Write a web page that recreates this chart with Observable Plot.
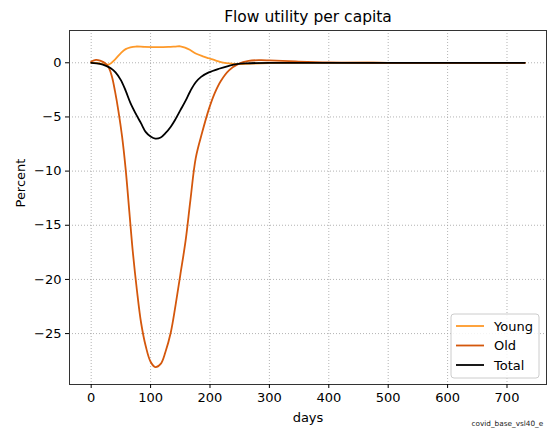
<!DOCTYPE html>
<html>
<head>
<meta charset="utf-8">
<script src="https://cdn.jsdelivr.net/npm/d3@7"></script>
<script src="https://cdn.jsdelivr.net/npm/@observablehq/plot@0.6"></script>
<style>
  html, body { margin: 0; padding: 0; background: #fff; }
</style>
</head>
<body>
<div id="chart"></div>
<script>
const titleText = "Flow utility per capita";
const xLabel = "days";
const yLabel = "Percent";
const captionText = "covid_base_vsl40_e";
const xTicks = [0, 100, 200, 300, 400, 500, 600, 700];
const yTicks = [0, -5, -10, -15, -20, -25];
const seriesNames = ["Young", "Old", "Total"];
const seriesColors = ["#fe9929", "#d4570c", "#000000"];

const youngDays = [0, 10, 20, 30, 40, 50, 58, 66, 75, 90, 114, 130, 142, 150, 158, 166, 176, 188, 198, 210, 220, 232, 248, 270, 300, 350, 400, 500, 600, 730];
const youngVals = [0, -0.02, -0.12, -0.15, 0.3, 0.9, 1.26, 1.42, 1.5, 1.47, 1.45, 1.47, 1.5, 1.52, 1.4, 1.2, 0.86, 0.6, 0.42, 0.2, 0.03, -0.06, -0.12, -0.08, -0.04, -0.01, 0, 0, 0, 0];

const oldDays = [0, 8, 15, 25, 30, 35, 40, 46, 52, 58, 64, 70, 77, 84, 92, 100, 108, 117, 125, 134, 142, 150, 159, 167, 176, 187, 198, 208, 218, 232, 248, 265, 285, 300, 344, 400, 500, 730];
const oldVals = [0.12, 0.27, 0.2, -0.1, -0.5, -1.3, -2.6, -4.5, -6.8, -9.8, -13.6, -17.4, -21.0, -24.0, -26.2, -27.6, -28.1, -27.8, -26.7, -24.9, -22.4, -19.6, -16.4, -12.7, -8.8, -6.4, -4.3, -2.8, -1.7, -0.7, -0.1, 0.18, 0.24, 0.22, 0.12, 0.03, 0, 0];

const totalDays = [0, 15, 25, 33, 41, 50, 58, 66, 75, 84, 92, 100, 108, 117, 125, 134, 142, 150, 159, 167, 176, 185, 198, 215, 232, 245, 260, 300, 400, 730];
const totalVals = [0, -0.1, -0.28, -0.5, -0.89, -1.6, -2.57, -3.7, -4.7, -5.6, -6.4, -6.8, -7.0, -6.9, -6.5, -5.9, -5.2, -4.4, -3.5, -2.6, -1.8, -1.3, -0.89, -0.55, -0.28, -0.12, -0.05, 0, 0, 0];

const toRows = (days, vals, name) => days.map((d, i) => ({day: d, value: vals[i], series: name}));
const young = toRows(youngDays, youngVals, "Young");
const old = toRows(oldDays, oldVals, "Old");
const total = toRows(totalDays, totalVals, "Total");

const font = "DejaVu Sans, Liberation Sans, sans-serif";
const gridStyle = {stroke: "#a0a0a0", strokeOpacity: 1, strokeDasharray: "1,2", strokeWidth: 0.8};

const chart = Plot.plot({
  width: 548,
  height: 430,
  marginLeft: 69,
  marginRight: 2,
  marginTop: 30,
  marginBottom: 46,
  style: {fontFamily: font, fontSize: "13px", background: "#fff", color: "#000", overflow: "visible"},
  x: {domain: [-36.5, 766.5], label: null},
  y: {domain: [-29.7, 2.98], label: null},
  marks: [
    Plot.gridX(xTicks, gridStyle),
    Plot.gridY(yTicks, gridStyle),
    Plot.line(young, {x: "day", y: "value", stroke: seriesColors[0], strokeWidth: 1.8, curve: "catmull-rom"}),
    Plot.line(old, {x: "day", y: "value", stroke: seriesColors[1], strokeWidth: 1.8, curve: "catmull-rom"}),
    Plot.line(total, {x: "day", y: "value", stroke: seriesColors[2], strokeWidth: 1.8, curve: "catmull-rom"}),
    Plot.frame({stroke: "#333", strokeWidth: 1}),
    Plot.axisX(xTicks, {tickSize: 4, tickPadding: 4, label: null, fontSize: 13}),
    Plot.axisY(yTicks, {tickSize: 4, tickPadding: 4, label: null, fontSize: 13}),
    Plot.text([titleText], {text: d => d, frameAnchor: "top", lineAnchor: "middle", dy: -13, fontSize: 15.5}),
    Plot.text([xLabel], {text: d => d, frameAnchor: "bottom", lineAnchor: "middle", dy: 33, fontSize: 13}),
    Plot.text([yLabel], {text: d => d, frameAnchor: "left", lineAnchor: "middle", dx: -49, rotate: -90, fontSize: 13}),
    Plot.text([captionText], {text: d => d, frameAnchor: "bottom-right", lineAnchor: "middle", dx: -75, dy: 39, textAnchor: "start", fontSize: 7.3, fill: "#222"})
  ]
});

document.getElementById("chart").appendChild(chart);

// Legend inside the plot, lower right
const svg = d3.select(chart);
const lg = svg.append("g").attr("font-family", font).attr("font-size", 13).attr("text-anchor", "start");
const bx = 451, by = 314, bw = 88, bh = 64;
lg.append("rect").attr("x", bx).attr("y", by).attr("width", bw).attr("height", bh)
  .attr("rx", 3).attr("fill", "#fff").attr("fill-opacity", 0.85).attr("stroke", "#ccc");
seriesNames.forEach((name, i) => {
  const y = by + 12 + i * 19.5;
  lg.append("line").attr("x1", bx + 5).attr("x2", bx + 33).attr("y1", y).attr("y2", y)
    .attr("stroke", seriesColors[i]).attr("stroke-width", 1.8);
  lg.append("text").attr("x", bx + 43).attr("y", y).attr("dy", "0.36em").attr("text-anchor", "start").text(name);
});
</script>
</body>
</html>
